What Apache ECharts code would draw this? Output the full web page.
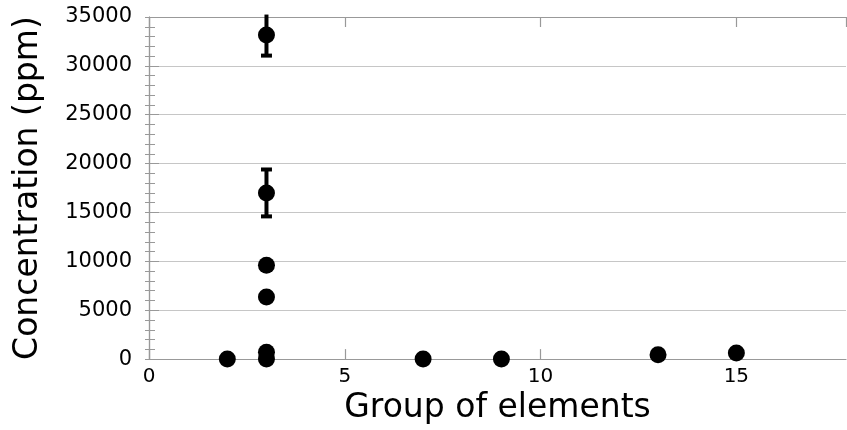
<!DOCTYPE html>
<html>
<head>
<meta charset="utf-8">
<script src="https://cdn.jsdelivr.net/npm/echarts@6/dist/echarts.min.js"></script>
<style>
html,body{margin:0;padding:0;background:#fff;}
#chart{width:847px;height:430px;}
</style>
</head>
<body>
<div id="chart"></div>
<script>
// Data
var groups = [2, 3, 3, 3, 3, 3, 3, 7, 9, 13, 15];
var concentrations = [0, 33150, 17000, 9600, 6350, 700, 0, 0, 0, 450, 630];
var errorGroups = [3, 3];
var errorCenters = [33150, 17000];
var errorSizes = [2100, 2400];
var xTicks = [0, 5, 10, 15];
var yTicks = [0, 5000, 10000, 15000, 20000, 25000, 30000, 35000];

var FONT = 'DejaVu Sans';
var axisGray = '#999999';
var gridGray = '#c6c6c6';

var points = groups.map(function (g, i) { return [g, concentrations[i]]; });
var errData = errorGroups.map(function (g, i) {
  return [g, errorCenters[i], errorCenters[i] - errorSizes[i], errorCenters[i] + errorSizes[i]];
});

var chart = echarts.init(document.getElementById('chart'));
var xCommon = {
  type: 'value', min: 0, max: 17.8, interval: 5,
  axisLine: { show: true, onZero: false, lineStyle: { color: axisGray, width: 1.2 } },
  axisTick: { show: true, inside: true, length: 10, lineStyle: { color: axisGray, width: 1.2 } },
  splitLine: { show: false }
};
var yCommon = {
  type: 'value', min: 0, max: 35000, interval: 5000,
  axisLine: { show: true, lineStyle: { color: axisGray, width: 1.2 } },
  minorTick: { show: true, splitNumber: 5, length: 5, lineStyle: { color: axisGray } },
  minorSplitLine: { show: false }
};
chart.setOption({
  animation: false,
  backgroundColor: '#fff',
  grid: { left: 149, right: 1, top: 17, bottom: 66, containLabel: false },
  xAxis: [
    Object.assign({}, xCommon, {
      position: 'bottom',
      name: 'Group of elements',
      nameLocation: 'middle',
      nameGap: 17,
      nameTextStyle: { fontFamily: FONT, fontSize: 33, color: '#000', verticalAlign: 'top' },
      axisLabel: {
        fontFamily: FONT, fontSize: 20, color: '#000', margin: 8,
        showMaxLabel: false,
        formatter: function (v) { return xTicks.indexOf(v) >= 0 ? String(v) : ''; }
      }
    }),
    Object.assign({}, xCommon, {
      position: 'top',
      axisLabel: { show: false }
    })
  ],
  yAxis: [
    Object.assign({}, yCommon, {
      position: 'left',
      name: 'Concentration (ppm)',
      nameLocation: 'middle',
      nameGap: 104,
      nameTextStyle: { fontFamily: FONT, fontSize: 33, color: '#000' },
      axisTick: { show: true, inside: true, length: 10, lineStyle: { color: axisGray } },
      axisLabel: {
        fontFamily: FONT, fontSize: 21, color: '#000', margin: 17,
        formatter: function (v) { return yTicks.indexOf(v) >= 0 ? String(v) : ''; }
      },
      minorTick: { show: true, splitNumber: 5, length: 6, lineStyle: { color: axisGray } },
      splitLine: { show: true, lineStyle: { color: gridGray, width: 1.2 } }
    }),
    Object.assign({}, yCommon, {
      position: 'right',
      axisTick: { show: true, inside: true, length: 4, lineStyle: { color: axisGray } },
      minorTick: { show: true, splitNumber: 5, length: 4, lineStyle: { color: axisGray } },
      axisLabel: { show: false },
      splitLine: { show: false }
    })
  ],
  series: [
    {
      type: 'custom',
      xAxisIndex: 0, yAxisIndex: 0,
      data: errData,
      encode: { x: 0, y: [1, 2, 3] },
      z: 3,
      renderItem: function (params, api) {
        var x = api.value(0);
        var lo = api.coord([x, api.value(2)]);
        var hi = api.coord([x, api.value(3)]);
        var top = params.coordSys.y;
        var capHalf = 5.5;
        var style = { stroke: '#000', lineWidth: 4 };
        var children = [
          { type: 'line', shape: { x1: lo[0], y1: lo[1], x2: hi[0], y2: hi[1] }, style: style },
          { type: 'line', shape: { x1: lo[0] - capHalf, y1: lo[1], x2: lo[0] + capHalf, y2: lo[1] }, style: style }
        ];
        if (hi[1] >= top) {
          children.push({ type: 'line', shape: { x1: hi[0] - capHalf, y1: hi[1], x2: hi[0] + capHalf, y2: hi[1] }, style: style });
        }
        return { type: 'group', children: children };
      }
    },
    {
      type: 'scatter',
      xAxisIndex: 0, yAxisIndex: 0,
      data: points,
      symbol: 'circle',
      symbolSize: 17,
      itemStyle: { color: '#000', opacity: 1 },
      z: 4
    }
  ]
});
</script>
</body>
</html>
